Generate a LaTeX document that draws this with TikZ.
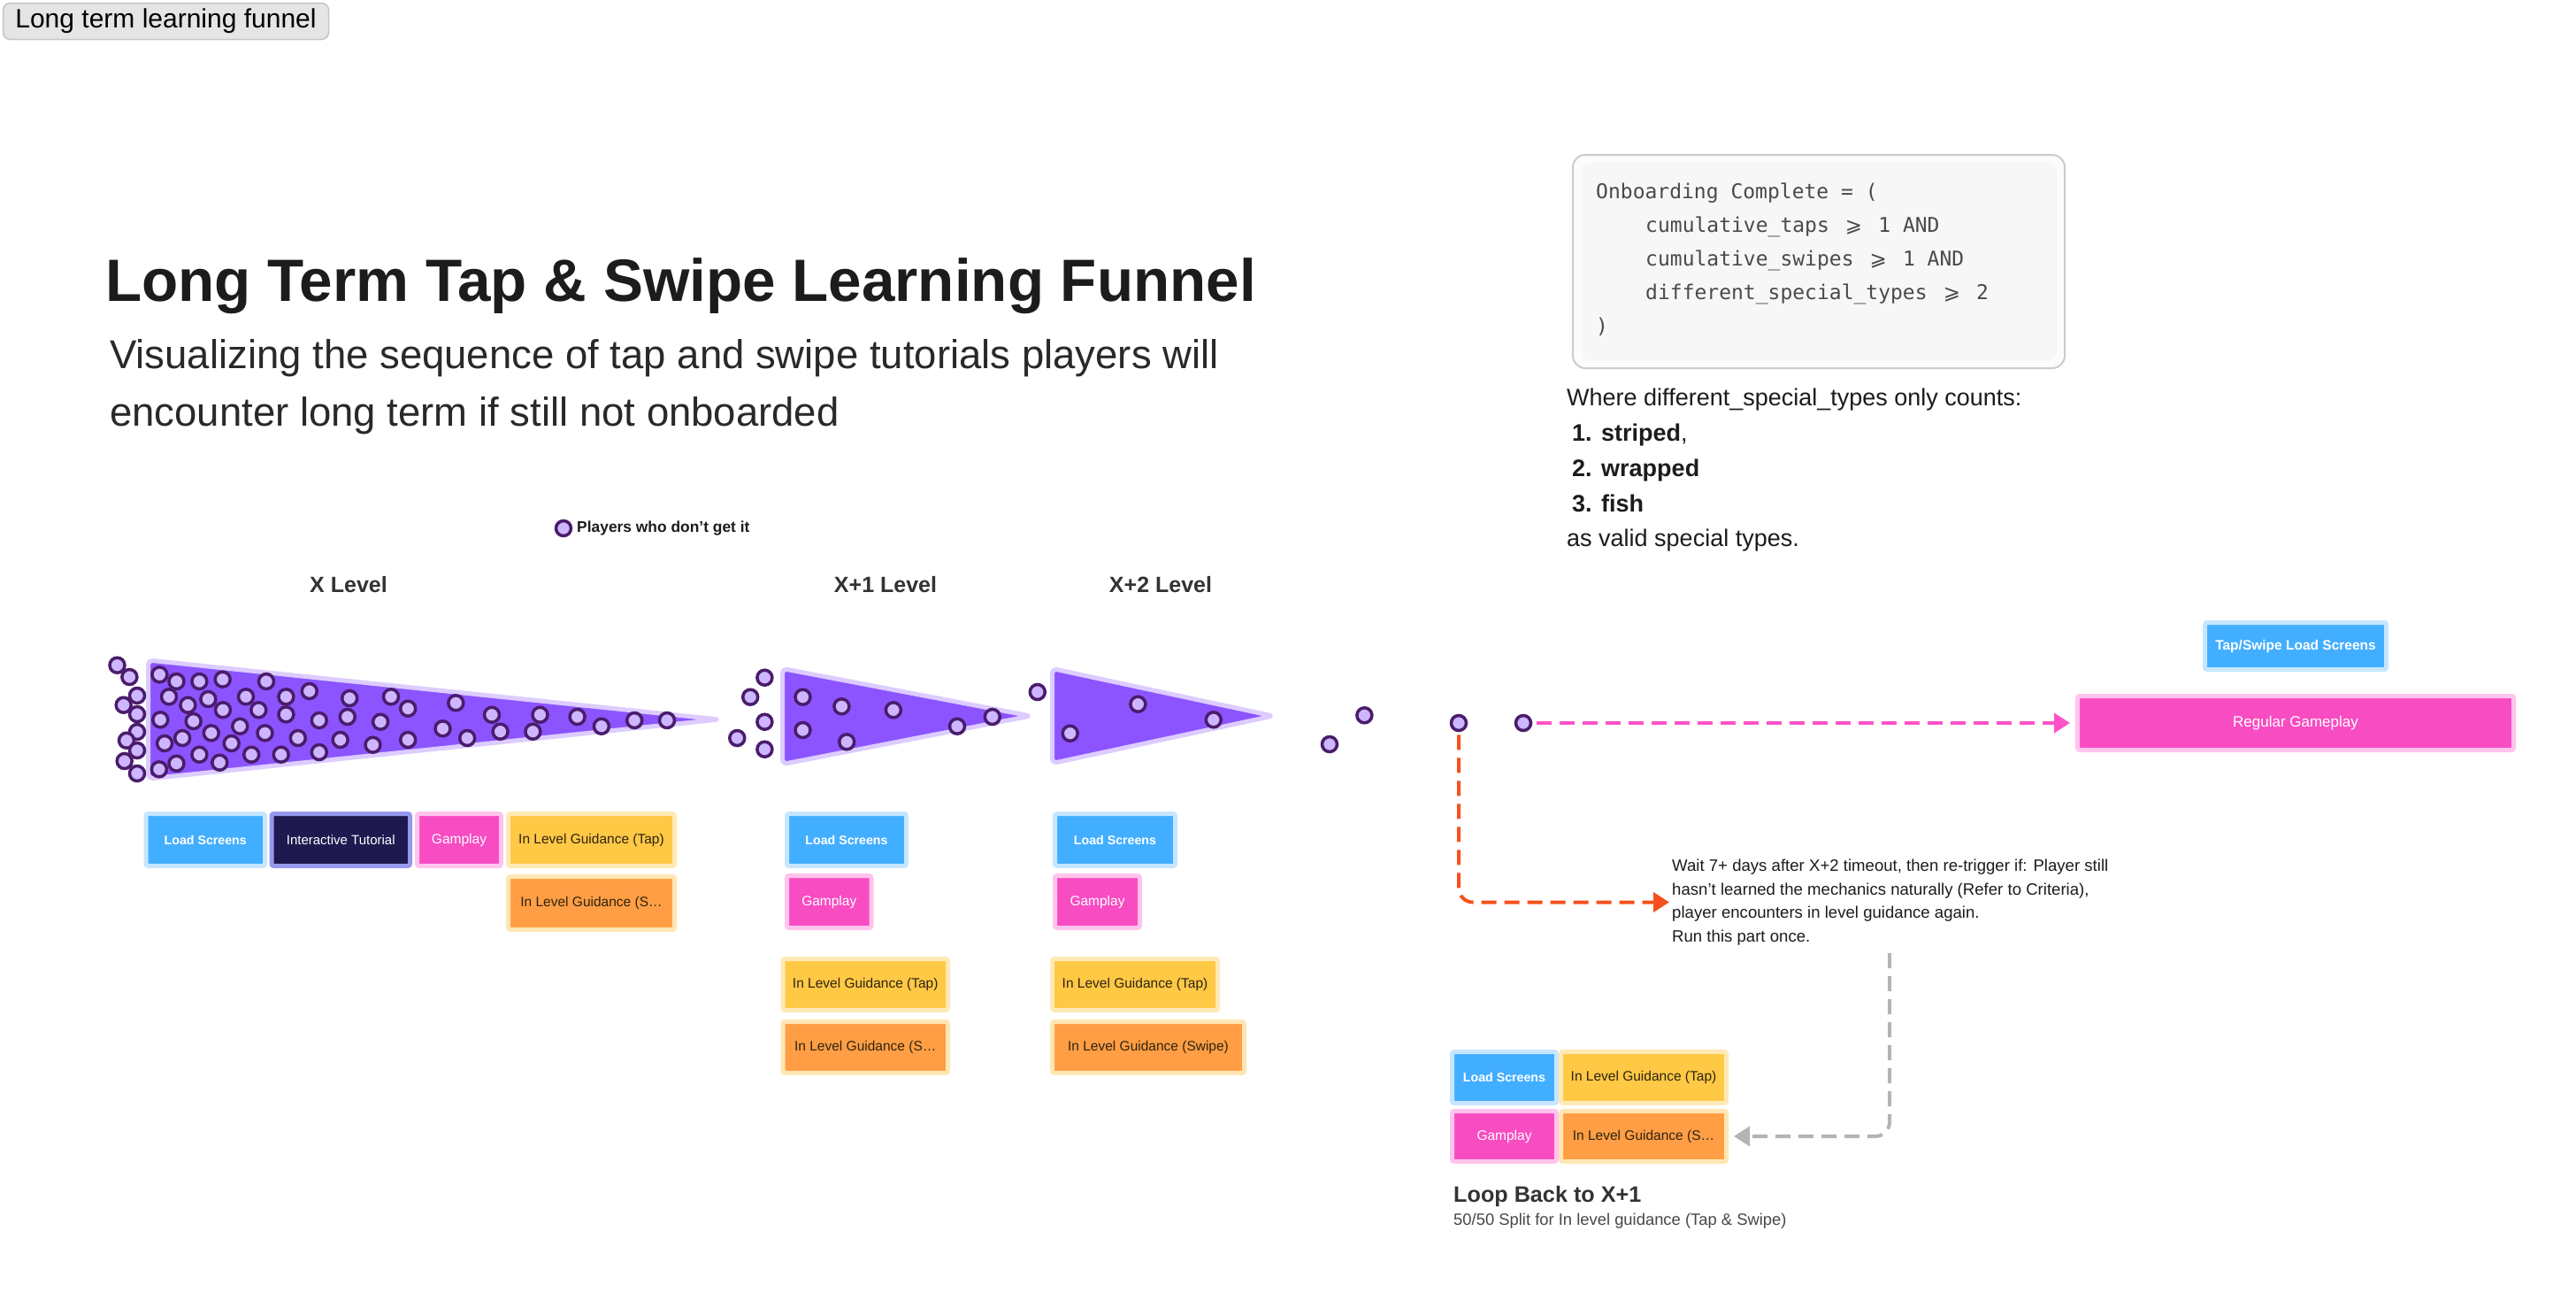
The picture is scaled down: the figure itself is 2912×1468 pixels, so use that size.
\documentclass[tikz,border=0pt]{standalone}
\usepackage{fontspec}
\setmainfont{Liberation Sans}
\newfontfamily\codefont{DejaVu Sans Mono}
\newfontfamily\dvsans{DejaVu Sans}
\usetikzlibrary{arrows.meta}
\definecolor{cFun}{HTML}{8B54FF}
\definecolor{cFunL}{HTML}{DCCCFF}
\definecolor{cDot}{HTML}{CDB6FF}
\definecolor{cDotB}{HTML}{4A1C6B}
\definecolor{cBlue}{HTML}{42AEFF}
\definecolor{cBlueL}{HTML}{C6E6FF}
\definecolor{cNavy}{HTML}{1E1A4F}
\definecolor{cNavyL}{HTML}{9698EE}
\definecolor{cPink}{HTML}{F84CC2}
\definecolor{cPinkL}{HTML}{FFC4EC}
\definecolor{cYel}{HTML}{FFC845}
\definecolor{cYelL}{HTML}{FFE9B5}
\definecolor{cOra}{HTML}{FF9E44}
\definecolor{cOraL}{HTML}{FFE6B5}
\definecolor{cArrO}{HTML}{F4511E}
\definecolor{cArrP}{HTML}{FF52C8}
\definecolor{cArrG}{HTML}{B4B4B4}
\definecolor{cTxt}{HTML}{1C1C1C}
\definecolor{cTxt2}{HTML}{333333}
\definecolor{cCode}{HTML}{4A4A4A}
\definecolor{cGuid}{HTML}{2E2412}
\newcommand\fs[2]{\fontsize{#1}{#2}\selectfont}
\newcommand\mygeq{\makebox[1.204em]{\dvsans ⩾}}
\tikzset{
  funnel/.style={fill=cFun, draw=cFunL, line width=5pt, rounded corners=5pt, line join=round},
  dot/.style={circle, fill=cDot, draw=cDotB, line width=3.5pt, minimum size=17pt, inner sep=0pt},
  bx/.style={rectangle, rounded corners=2.5pt, line width=5pt, inner sep=0pt, align=center},
  lsbox/.style={bx, fill=cBlue, draw=cBlueL, text=white, font=\fs{14.2}{17}\bfseries},
  navbox/.style={bx, fill=cNavy, draw=cNavyL, text=white, font=\fs{15}{18}},
  gpbox/.style={bx, fill=cPink, draw=cPinkL, text=white, font=\fs{15.5}{18}},
  tapbox/.style={bx, fill=cYel, draw=cYelL, text=cGuid, font=\fs{15.5}{18}},
  swbox/.style={bx, fill=cOra, draw=cOraL, text=cGuid, font=\fs{15.5}{18}},
  lvl/.style={font=\fs{25}{30}\bfseries, text=cTxt2, inner sep=0pt},
  arr/.style={line width=4pt, dash pattern=on 17pt off 9pt, -{Triangle[length=18pt,width=22pt]}},
  codeline/.style={anchor=base west, inner sep=0pt, text=cCode, font=\fs{23}{28}\codefont},
  plain/.style={anchor=base west, inner sep=0pt, text=cTxt},
}
\begin{document}
\begin{tikzpicture}[x=1pt, y=-1pt]
\fill[white] (0,0) rectangle (2912,1468);
\useasboundingbox (0,0) rectangle (2912,1468);

% tag
\node[rectangle, rounded corners=8pt, fill=black!10, draw=black!23, line width=1.5pt,
  minimum width=368pt, minimum height=41pt, inner sep=0pt, font=\fs{30}{36}, text=black] (tag) at (187.5,24) {Long term learning funnel};

% titles
\node[plain, font=\fs{67.4}{80}\bfseries] (title) at (119,340) {Long Term Tap \& Swipe Learning Funnel};
\node[plain, font=\fs{45.5}{55}, text=cTxt2!80!black] (sub1) at (124,416) {Visualizing the sequence of tap and swipe tutorials players will};
\node[plain, font=\fs{45.5}{55}, text=cTxt2!80!black] (sub2) at (124,481) {encounter long term if still not onboarded};

% legend
\node[dot] (leg) at (637,597) {};
\node[anchor=west, inner sep=0pt, font=\fs{17.4}{20}\bfseries, text=cTxt] (legt) at (652,597) {Players who don’t get it};

% level labels
\node[lvl] (lx) at (394,661) {X Level};
\node[lvl] (lx1) at (1001,661) {X+1 Level};
\node[lvl] (lx2) at (1312,661) {X+2 Level};

% funnels
\filldraw[funnel] (167.5,746) -- (813,813) -- (167.5,880) -- cycle;
\filldraw[funnel] (884.5,755.5) -- (1165,809) -- (884.5,863.5) -- cycle;
\filldraw[funnel] (1189.5,755.5) -- (1439,809) -- (1189.5,862.5) -- cycle;

% dots funnel 1 (outside left)
\foreach \x/\y [count=\i] in {132.5/751.7,146.4/765,155/786,139.7/796.7,155/807,155/827,143/836.7,155/848,140.7/860,155/874}
  \node[dot] (a\i) at (\x,\y) {};
% dots inside funnel 1
\foreach \x/\y [count=\i] in {180.4/762.3,199.5/770,225.4/770,251.7/767.7,301/770,191/787.3,212.4/796.7,235.4/790,252/802.3,278/787.3,292.3/802.3,323.4/787.3,349.8/781,395.2/789,442/787.3,461.2/800.7,515.3/794.3,556/807.7,610.5/807.7,652.6/810,679.9/820.7,717.2/814,754/814,181.3/813.3,218.7/815,323.4/807.3,360.8/814,392.8/810,430.1/815.7,500.5/823.3,528.2/834,565.6/826.7,602.4/826.7,186.1/840,206.2/834,238.8/828.3,271.3/820.7,261.7/840,299.5/828.3,336.8/834,384.7/836,421.5/841.7,461.2/836,360.8/850,317.7/852.7,284.2/852.7,225.4/852.7,248.3/861.7,199.5/862.7,179.9/869.3}
  \node[dot] (b\i) at (\x,\y) {};
% between funnel 1 and 2
\foreach \x/\y [count=\i] in {864.4/765.7,848.2/787.7,864.4/815.7,833.3/834,864.4/846.7}
  \node[dot] (c\i) at (\x,\y) {};
% inside funnel 2
\foreach \x/\y [count=\i] in {907.5/787.7,951.4/798.3,1009.9/802.3,1121.8/810,1082/820.7,907.5/825,957.2/838.3}
  \node[dot] (e\i) at (\x,\y) {};
\node[dot] (g1) at (1172.8,782) {};
% inside funnel 3
\foreach \x/\y [count=\i] in {1286.4/795.7,1371.8/813.3,1209.7/828.7}
  \node[dot] (h\i) at (\x,\y) {};
% after funnel 3
\node[dot] (p1) at (1503,841) {};
\node[dot] (p2) at (1542.4,808.3) {};
\node[dot] (p3) at (1649,817) {};
\node[dot] (p4) at (1722,817) {};

% boxes X level
\node[lsbox, minimum width=134.5pt, minimum height=59pt] (ls1) at (232.25,949) {Load Screens};
\node[navbox, minimum width=156.5pt, minimum height=59pt] (it1) at (385.25,949) {Interactive Tutorial};
\node[gpbox, minimum width=95pt, minimum height=59pt] (gp1) at (519,949) {Gamplay};
\node[tapbox, minimum width=188pt, minimum height=59pt] (tap1) at (668.5,949) {In Level Guidance (Tap)};
\node[swbox, minimum width=188pt, minimum height=60pt] (sw1) at (668.5,1020.5) {In Level Guidance (S…};

% boxes X+1
\node[lsbox, minimum width=135pt, minimum height=59pt] (ls2) at (957,949) {Load Screens};
\node[gpbox, minimum width=95.5pt, minimum height=59pt] (gp2) at (937.25,1019) {Gamplay};
\node[tapbox, minimum width=186.5pt, minimum height=58pt] (tap2) at (978.25,1112.5) {In Level Guidance (Tap)};
\node[swbox, minimum width=186.5pt, minimum height=58pt] (sw2) at (978.25,1183.5) {In Level Guidance (S…};

% boxes X+2
\node[lsbox, minimum width=136pt, minimum height=59pt] (ls3) at (1260.5,949) {Load Screens};
\node[gpbox, minimum width=96pt, minimum height=59pt] (gp3) at (1240.5,1019) {Gamplay};
\node[tapbox, minimum width=187pt, minimum height=58pt] (tap3) at (1283,1112.5) {In Level Guidance (Tap)};
\node[swbox, minimum width=217pt, minimum height=58pt] (sw3) at (1298,1183.5) {In Level Guidance (Swipe)};

% loop back boxes
\node[lsbox, minimum width=118pt, minimum height=58pt] (ls4) at (1700.5,1217.5) {Load Screens};
\node[tapbox, minimum width=187pt, minimum height=58pt] (tap4) at (1858,1217.5) {In Level Guidance (Tap)};
\node[gpbox, minimum width=118pt, minimum height=57pt] (gp4) at (1700.5,1284) {Gamplay};
\node[swbox, minimum width=187pt, minimum height=57pt] (sw4) at (1858,1284) {In Level Guidance (S…};
\node[plain, font=\fs{25.2}{30}\bfseries, text=cTxt2] (loopt) at (1643,1358) {Loop Back to X+1};
\node[plain, font=\fs{18.4}{22}, text=cTxt2!90!white] (loops) at (1643,1384) {50/50 Split for In level guidance (Tap \& Swipe)};

% right side
\node[lsbox, font=\fs{15.5}{18}\bfseries, minimum width=205pt, minimum height=53pt] (tsls) at (2595,730) {Tap/Swipe Load Screens};
\node[gpbox, font=\fs{17}{20}, minimum width=493pt, minimum height=61pt] (rg) at (2595,817) {Regular Gameplay};

% wait text
\node[anchor=west, inner sep=3pt, align=left, font=\fs{18.6}{26.5}, text=cTxt] (wait) at (1887,1019.5)
  {Wait 7+ days after X+2 timeout, then re-trigger if: Player still\\
   hasn't learned the mechanics naturally (Refer to Criteria),\\
   player encounters in level guidance again.\\
   Run this part once.};
\coordinate (gstart) at (2136,1077);

% code box
\draw[rounded corners=14pt, fill=black!1, draw=black!20, line width=2pt] (1778,175) rectangle (2334,416);
\fill[rounded corners=10pt, fill=black!3] (1788,184) rectangle (2325,407);
\node[codeline] (c1) at (1804,224) {Onboarding Complete = (};
\node[codeline] (c2) at (1860,262.7) {cumulative\_taps \mygeq{} 1 AND};
\node[codeline] (c3) at (1860,300.5) {cumulative\_swipes \mygeq{} 1 AND};
\node[codeline] (c4) at (1860,338.3) {different\_special\_types \mygeq{} 2};
\node[codeline] (c5) at (1804,376) {)};

% criteria text
\node[plain, font=\fs{27}{32}] (w1) at (1771,458) {Where different\_special\_types only counts:};
\node[plain, font=\fs{27}{32}\bfseries] (n1) at (1777,498) {1.};
\node[plain, font=\fs{27}{32}] (t1) at (1810,498) {\textbf{striped},};
\node[plain, font=\fs{27}{32}\bfseries] (n2) at (1777,538) {2.};
\node[plain, font=\fs{27}{32}\bfseries] (t2) at (1810,538) {wrapped};
\node[plain, font=\fs{27}{32}\bfseries] (n3) at (1777,578) {3.};
\node[plain, font=\fs{27}{32}\bfseries] (t3) at (1810,578) {fish};
\node[plain, font=\fs{27}{32}] (w2) at (1771,617) {as valid special types.};

% connectors
\draw[arr, draw=cArrP, shorten <=5pt, shorten >=6pt] (p4.east) -- (p4.east -| rg.west);
\draw[arr, draw=cArrO, rounded corners=16pt, shorten <=3pt] (p3.south) |- (wait.west);
\draw[arr, draw=cArrG, rounded corners=16pt, shorten >=6pt] (gstart) |- (sw4.east);
\end{tikzpicture}
\end{document}
